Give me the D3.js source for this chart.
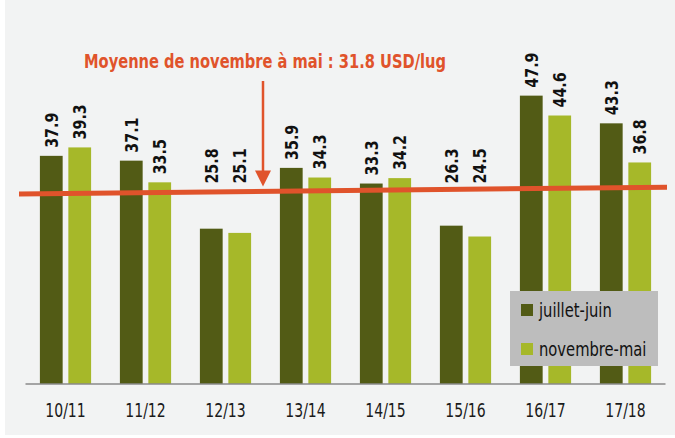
<!DOCTYPE html>
<html><head><meta charset="utf-8">
<script src="https://cdn.jsdelivr.net/npm/d3@7"></script>
<style>
html,body{margin:0;padding:0;background:#fff;}
svg{display:block;}
text{font-family:"Liberation Sans Narrow","DejaVu Sans Condensed",sans-serif;}
</style></head>
<body>
<svg id="chart" width="675" height="438"></svg>
<script>
const categories = ["10/11","11/12","12/13","13/14","14/15","15/16","16/17","17/18"];
const seriesNames = ["juillet-juin","novembre-mai"];
const julyJune = [37.9, 37.1, 25.8, 35.9, 33.3, 26.3, 47.9, 43.3];
const novMay = [39.3, 33.5, 25.1, 34.3, 34.2, 24.5, 44.6, 36.8];
const meanLabel = "Moyenne de novembre à mai : 31.8 USD/lug";
const meanValue = 31.8;
const meanLineEnds = [31.55, 32.7];
const colors = ["#525b15", "#a6b829"];

const svg = d3.select("#chart");
const W = 675, H = 438;

svg.append("rect").attr("x", 5).attr("y", 0).attr("width", W - 5).attr("height", H - 3).attr("fill", "#f2f3f3");

const x0 = d3.scaleBand().domain(categories).range([25.5, 665.5]).padding(0);
const step = x0.step();
const x1 = d3.scaleBand().domain(seriesNames).range([step * 0.18, step * 0.82]).paddingInner(0.2);
const y = d3.scaleLinear().domain([0, 50]).range([384, 384 - 50 * 6.02]);

const data = categories.map((c, i) => ({cat: c, vals: [julyJune[i], novMay[i]]}));

const groups = svg.append("g").selectAll("g.grp").data(data).enter().append("g")
  .attr("class", "grp")
  .attr("transform", d => `translate(${x0(d.cat)},0)`);

const items = d => d.vals.map((v, j) => ({s: seriesNames[j], v, j}));

groups.selectAll("rect").data(items)
  .enter().append("rect")
  .attr("x", d => x1(d.s))
  .attr("width", x1.bandwidth())
  .attr("y", d => y(d.v))
  .attr("height", d => y(0) - y(d.v))
  .attr("fill", d => colors[d.j]);

// value labels, vertical (reading bottom to top); lifted above the mean line when bars are low
const labelLayer = svg.append("g").attr("class", "labels");
data.forEach(d => {
  items(d).forEach(it => {
    const cx = x0(d.cat) + x1(it.s) + x1.bandwidth() / 2 + 6.5;
    const cy = Math.min(y(it.v) - 8, y(meanValue) - 9);
    labelLayer.append("text")
      .attr("x", 0).attr("y", 0)
      .attr("transform", "matrix(0,-0.88,1,0," + cx + "," + cy + ")")
      .attr("font-size", 18).attr("font-weight", "bold").attr("fill", "#111")
      .text(it.v.toFixed(1));
  });
});

// axis
const xAxis = d3.axisBottom(x0).tickSize(0).tickPadding(19);
const ax = svg.append("g").attr("transform", `translate(0,${y(0)})`).call(xAxis);
ax.select(".domain").attr("stroke", "#8a8a8a").attr("stroke-width", 1.5).attr("d", `M${x0.range()[0]},0H${x0.range()[1]}`);
ax.selectAll(".tick text").attr("font-size", 20).attr("fill", "#1a1a1a")
  .attr("transform", "scale(0.78,1)")
  .attr("font-family", '"Liberation Sans Narrow","DejaVu Sans Condensed",sans-serif');

// mean line
const lineX = [19, 667];
svg.append("line")
  .attr("x1", lineX[0]).attr("x2", lineX[1])
  .attr("y1", y(meanLineEnds[0])).attr("y2", y(meanLineEnds[1]))
  .attr("stroke", "#e0532b").attr("stroke-width", 5);

// arrow
const arrowX = 263;
svg.append("line").attr("x1", arrowX).attr("x2", arrowX).attr("y1", 81).attr("y2", y(meanValue) - 20)
  .attr("stroke", "#e0532b").attr("stroke-width", 2.5);
svg.append("path")
  .attr("d", `M${arrowX - 8},${y(meanValue) - 22} L${arrowX + 8},${y(meanValue) - 22} L${arrowX},${y(meanValue) - 6} Z`)
  .attr("fill", "#e0532b");

svg.append("text").attr("x", 84).attr("y", 68)
  .attr("font-size", 19).attr("font-weight", "bold").attr("fill", "#e0532b")
  .attr("textLength", 362).attr("lengthAdjust", "spacingAndGlyphs")
  .text(meanLabel);

// legend
const leg = svg.append("g").attr("transform", "translate(510,291)");
leg.append("rect").attr("width", 148).attr("height", 75).attr("fill", "#bdbdbd");
seriesNames.forEach((s, i) => {
  const ly = 19 + i * 39;
  leg.append("rect").attr("x", 11).attr("y", ly - 6).attr("width", 12).attr("height", 12).attr("fill", colors[i]);
  leg.append("text").attr("x", 29).attr("y", ly + 7).attr("font-size", 20).attr("fill", "#111")
    .attr("transform", `translate(${29 * 0.18},0) scale(0.82,1)`)
    .text(s);
});
</script>
</body></html>
